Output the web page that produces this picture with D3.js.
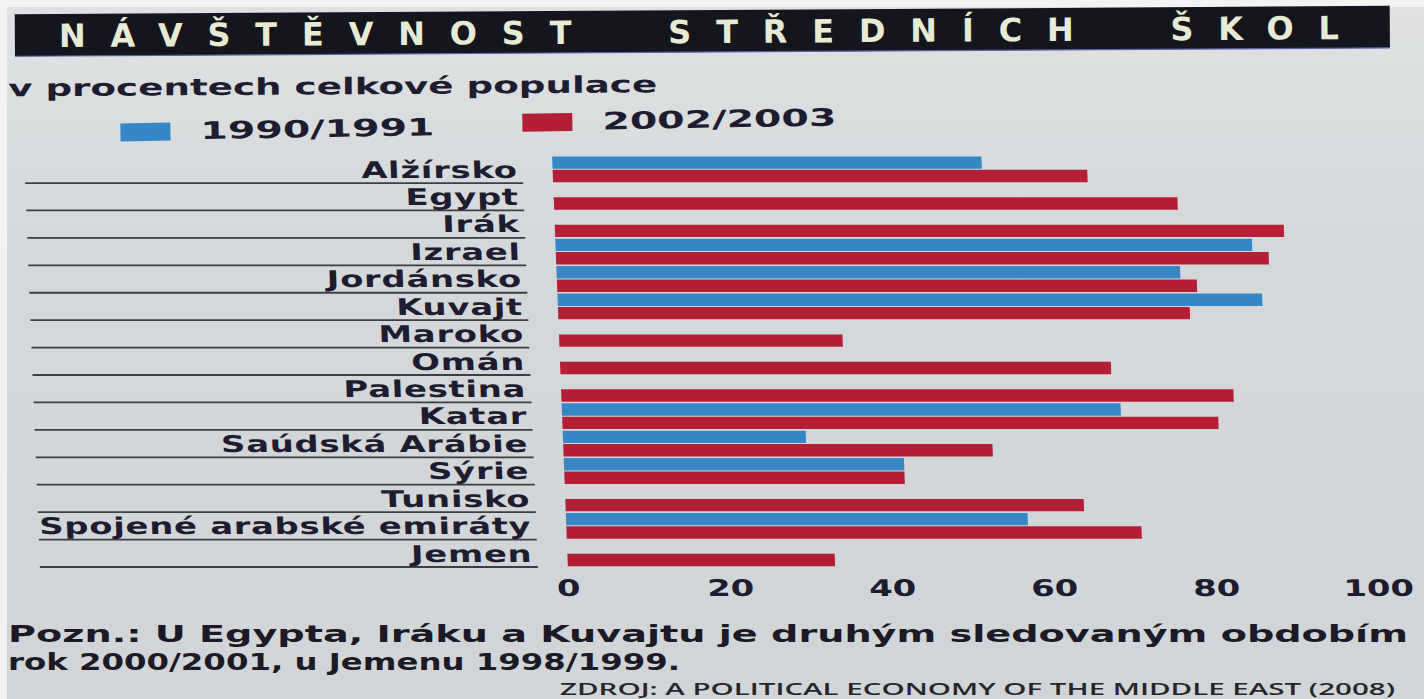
<!DOCTYPE html>
<html>
<head>
<meta charset="utf-8">
<script src="https://cdn.jsdelivr.net/npm/d3@7"></script>
<style>
  html, body { margin: 0; padding: 0; background: #f3f3f3; }
  svg { display: block; }
  text { font-family: "DejaVu Sans", sans-serif; font-weight: bold; fill: #1d1c30; }
</style>
</head>
<body>
<div id="chart"></div>
<script>
// Data (% of total population)
const countries = ["Alžírsko", "Egypt", "Irák", "Izrael", "Jordánsko", "Kuvajt", "Maroko", "Omán",
  "Palestina", "Katar", "Saúdská Arábie", "Sýrie", "Tunisko", "Spojené arabské emiráty", "Jemen"];
const values1990 = [53, null, null, 86, 77, 87, null, null, null, 69, 30, 42, null, 57, null];
const values2002 = [66, 77, 90, 88, 79, 78, 35, 68, 83, 81, 53, 42, 64, 71, 33];
const seriesNames = ["1990/1991", "2002/2003"];
const seriesColors = ["#3687c6", "#b51f36"];
const tickValues = [0, 20, 40, 60, 80, 100];

const titleText = "NÁVŠTĚVNOST  STŘEDNÍCH  ŠKOL";
const subtitleText = "v procentech celkové populace";
const noteLines = ["Pozn.: U Egypta, Iráku a Kuvajtu je druhým sledovaným obdobím",
  "rok 2000/2001, u Jemenu 1998/1999."];
const sourceText = "ZDROJ: A POLITICAL ECONOMY OF THE MIDDLE EAST (2008)";

const W = 1424, H = 699;
const SX = 1.47; // the photo is stretched sideways

const svg = d3.select("#chart").append("svg")
  .attr("width", W).attr("height", H);

// paper
const defs = svg.append("defs");
const paper = defs.append("linearGradient").attr("id", "paper")
  .attr("x1", 0).attr("y1", 0).attr("x2", 0).attr("y2", 1);
paper.append("stop").attr("offset", "0%").attr("stop-color", "#dfe1e2");
paper.append("stop").attr("offset", "35%").attr("stop-color", "#d5d8da");
paper.append("stop").attr("offset", "100%").attr("stop-color", "#d2d5d7");
svg.append("rect").attr("x", 7).attr("y", 7).attr("width", W - 7).attr("height", H - 7)
  .attr("fill", "url(#paper)");

// title bar
const head = svg.append("g").attr("transform", "rotate(-0.35 712 60)");
head.append("rect")
  .attr("x", 15).attr("y", 10).attr("width", 1375).attr("height", 42)
  .attr("fill", "#15161d");
head.append("line")
  .attr("x1", 15).attr("x2", 1390).attr("y1", 52).attr("y2", 52)
  .attr("stroke", "#5a5fae").attr("stroke-width", 1.2);
head.append("text")
  .attr("x", 59).attr("y", 43)
  .attr("xml:space", "preserve")
  .style("white-space", "pre")
  .attr("textLength", 1280).attr("lengthAdjust", "spacing")
  .style("font-size", "32px")
  .style("fill", "#e7ebd3")
  .text(titleText);

// subtitle
head.append("text")
  .attr("x", 8).attr("y", 92)
  .attr("textLength", 649).attr("lengthAdjust", "spacingAndGlyphs")
  .style("font-size", "23px")
  .text(subtitleText);

// legend
const legend = head.append("g").attr("transform", "rotate(-0.6 480 125)")
  .selectAll("g").data(seriesNames).join("g")
  .attr("transform", (d, i) => `translate(${120 + i * 402},${116 - i * 3})`);
legend.append("rect")
  .attr("width", 50).attr("height", 18)
  .attr("fill", (d, i) => seriesColors[i]);
legend.append("text")
  .attr("x", 80).attr("y", 17)
  .attr("textLength", 234).attr("lengthAdjust", "spacingAndGlyphs")
  .style("font-size", "24px")
  .text(d => d);

// plot area (slightly skewed like the photographed page)
const skewDeg = 2.2, yMid = 362;
const plot = svg.append("g")
  .attr("transform", `translate(${-Math.tan(skewDeg * Math.PI / 180) * yMid},0) skewX(${skewDeg})`);

const x = d3.scaleLinear().domain([0, 100]).range([560, 1370]);
const y = d3.scaleBand().domain(countries).range([155.6, 567]);
const ySub = d3.scaleBand().domain(seriesNames).range([0, y.bandwidth()])
  .paddingInner(0.075).paddingOuter(0.06);

const rows = countries.map((c, i) => ({ name: c, vals: [values1990[i], values2002[i]] }));

// separator lines
plot.append("g").selectAll("line").data(countries).join("line")
  .attr("x1", 32).attr("x2", 530)
  .attr("y1", d => y(d) + y.bandwidth())
  .attr("y2", d => y(d) + y.bandwidth())
  .attr("stroke", "#3d3e44").attr("stroke-width", 1.8);

// category labels
plot.append("g").selectAll("text").data(countries).join("text")
  .attr("transform", d => `translate(525,${y(d) + 22}) scale(${SX},1)`)
  .attr("text-anchor", "end")
  .style("font-size", "23px")
  .style("letter-spacing", "0.5px")
  .text(d => d);

// bars
const barData = rows.flatMap(r => r.vals.map((v, i) => ({ name: r.name, series: seriesNames[i], color: seriesColors[i], value: v })))
  .filter(d => d.value != null);
plot.append("g").selectAll("rect").data(barData).join("rect")
  .attr("x", x(0))
  .attr("y", d => y(d.name) + ySub(d.series))
  .attr("width", d => x(d.value) - x(0))
  .attr("height", ySub.bandwidth())
  .attr("fill", d => d.color);

// x tick labels
plot.append("g").selectAll("text").data(tickValues).join("text")
  .attr("transform", d => `translate(${x(d)},596) scale(${SX},1)`)
  .attr("text-anchor", "middle")
  .style("font-size", "23px")
  .text(d => d);

// note and source
svg.append("g").selectAll("text").data(noteLines).join("text")
  .attr("x", 8).attr("y", (d, i) => 642 + i * 27.5)
  .attr("textLength", (d, i) => i ? 672 : 1400)
  .attr("lengthAdjust", "spacingAndGlyphs")
  .style("font-size", "23px")
  .style("fill", "#1b1a26")
  .text(d => d);

svg.append("text")
  .attr("x", 560).attr("y", 695)
  .attr("textLength", 835).attr("lengthAdjust", "spacingAndGlyphs")
  .style("font-family", "'Open Sans', sans-serif")
  .style("font-weight", 600)
  .style("font-size", "17px")
  .style("fill", "#26262c")
  .text(sourceText);
</script>
</body>
</html>
